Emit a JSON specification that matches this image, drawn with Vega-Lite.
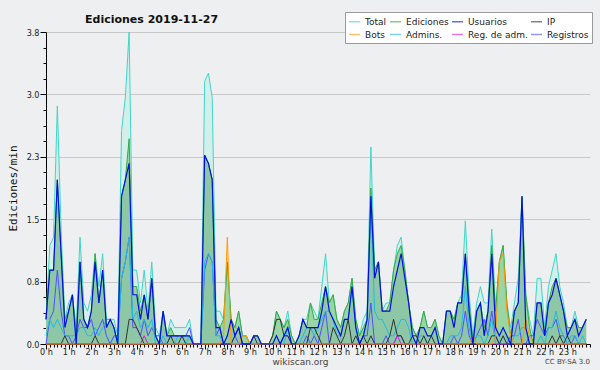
{
"$schema": "https://vega.github.io/schema/vega-lite/v6.json",
"width": 544, "height": 312,
"autosize": "none",
"padding": {"left": 46, "top": 32, "right": 10, "bottom": 26},
"background": "#eeeff0",
"config": {"view": {"stroke": null}, "font": "DejaVu Sans"},
"title": {"text": "Ediciones  2019-11-27", "anchor": "start", "frame": "group", "dx": 39, "dy": 19, "fontSize": 11, "font": "DejaVu Sans", "fontWeight": "bold", "color": "#111", "offset": 6},
"data": {"values": [
{"t":0,"T":0.3,"E":0.3,"U":0.3,"I":0,"B":0,"A":0.1,"M":0,"R":0},
{"t":10,"T":1.2,"E":0.9,"U":0.9,"I":0,"B":0,"A":0.3,"M":0,"R":0.3},
{"t":20,"T":1.3,"E":0.9,"U":0.9,"I":0,"B":0,"A":0.2,"M":0,"R":0.4},
{"t":30,"T":2.9,"E":2.0,"U":2.0,"I":0,"B":0,"A":0.3,"M":0,"R":0.9},
{"t":40,"T":1.4,"E":1.1,"U":1.1,"I":0,"B":0,"A":0.2,"M":0,"R":0.4},
{"t":50,"T":0.3,"E":0.3,"U":0.2,"I":0.1,"B":0,"A":0.1,"M":0,"R":0.1},
{"t":60,"T":0.5,"E":0.4,"U":0.4,"I":0,"B":0,"A":0.1,"M":0,"R":0.1},
{"t":70,"T":0.6,"E":0.6,"U":0.6,"I":0,"B":0,"A":0.1,"M":0,"R":0},
{"t":80,"T":0.2,"E":0.1,"U":0,"I":0,"B":0,"A":0.1,"M":0,"R":0.1},
{"t":90,"T":1.3,"E":1.0,"U":1.0,"I":0,"B":0,"A":0.2,"M":0,"R":0.3},
{"t":100,"T":0.5,"E":0.3,"U":0.3,"I":0,"B":0,"A":0.2,"M":0,"R":0.2},
{"t":110,"T":0.4,"E":0.2,"U":0.2,"I":0,"B":0,"A":0.1,"M":0,"R":0.2},
{"t":120,"T":0.6,"E":0.4,"U":0.4,"I":0,"B":0,"A":0.1,"M":0,"R":0.3},
{"t":130,"T":1.1,"E":1.1,"U":1.0,"I":0.1,"B":0,"A":0.2,"M":0,"R":0.1},
{"t":140,"T":0.7,"E":0.5,"U":0.5,"I":0,"B":0,"A":0.1,"M":0,"R":0.2},
{"t":150,"T":1.1,"E":0.9,"U":0.9,"I":0,"B":0,"A":0.2,"M":0,"R":0.3},
{"t":160,"T":0.3,"E":0.2,"U":0.2,"I":0,"B":0,"A":0.3,"M":0,"R":0.1},
{"t":170,"T":0.3,"E":0.3,"U":0.3,"I":0,"B":0,"A":0.3,"M":0,"R":0},
{"t":180,"T":0.3,"E":0.2,"U":0.2,"I":0,"B":0,"A":0.2,"M":0,"R":0.1},
{"t":190,"T":0.1,"E":0,"U":0,"I":0,"B":0,"A":0,"M":0,"R":0.1},
{"t":200,"T":2.6,"E":1.8,"U":1.8,"I":0,"B":0,"A":0.8,"M":0,"R":0.8},
{"t":210,"T":3.0,"E":2.0,"U":2.0,"I":0,"B":0,"A":1.0,"M":0,"R":1.0},
{"t":220,"T":3.8,"E":2.5,"U":2.2,"I":0.3,"B":0,"A":1.3,"M":0,"R":1.3},
{"t":230,"T":0.9,"E":0.7,"U":0.6,"I":0.3,"B":0,"A":0.3,"M":0,"R":0.2},
{"t":240,"T":0.9,"E":0.7,"U":0.6,"I":0.2,"B":0,"A":0.4,"M":0,"R":0.2},
{"t":250,"T":0.5,"E":0.4,"U":0.3,"I":0.1,"B":0,"A":0.2,"M":0,"R":0.1},
{"t":260,"T":0.9,"E":0.6,"U":0.6,"I":0,"B":0,"A":0.3,"M":0.1,"R":0.3},
{"t":270,"T":0.4,"E":0.3,"U":0.3,"I":0,"B":0,"A":0.2,"M":0,"R":0.1},
{"t":280,"T":1.0,"E":0.8,"U":0.8,"I":0,"B":0,"A":0.3,"M":0,"R":0.2},
{"t":290,"T":0.2,"E":0.1,"U":0.1,"I":0,"B":0,"A":0,"M":0,"R":0.1},
{"t":300,"T":0.1,"E":0,"U":0,"I":0,"B":0,"A":0,"M":0,"R":0.1},
{"t":310,"T":0.4,"E":0.4,"U":0.4,"I":0,"B":0,"A":0.1,"M":0,"R":0},
{"t":320,"T":0.1,"E":0.1,"U":0.1,"I":0,"B":0,"A":0,"M":0,"R":0},
{"t":330,"T":0.3,"E":0.2,"U":0.1,"I":0.1,"B":0,"A":0,"M":0,"R":0.1},
{"t":340,"T":0.2,"E":0.1,"U":0.1,"I":0,"B":0,"A":0,"M":0,"R":0.1},
{"t":350,"T":0.2,"E":0.1,"U":0.1,"I":0,"B":0,"A":0.1,"M":0,"R":0.1},
{"t":360,"T":0.2,"E":0.1,"U":0.1,"I":0.1,"B":0,"A":0.1,"M":0,"R":0.1},
{"t":370,"T":0.2,"E":0.1,"U":0.1,"I":0,"B":0,"A":0,"M":0,"R":0.1},
{"t":380,"T":0.3,"E":0.1,"U":0.1,"I":0,"B":0,"A":0.1,"M":0,"R":0.2},
{"t":390,"T":0,"E":0,"U":0,"I":0,"B":0,"A":0,"M":0,"R":0},
{"t":400,"T":0,"E":0,"U":0,"I":0,"B":0,"A":0,"M":0,"R":0},
{"t":410,"T":0,"E":0,"U":0,"I":0,"B":0,"A":0,"M":0,"R":0},
{"t":420,"T":3.2,"E":2.3,"U":2.3,"I":0,"B":0,"A":1.0,"M":0,"R":0.9},
{"t":430,"T":3.3,"E":2.2,"U":2.2,"I":0,"B":0,"A":1.1,"M":0,"R":1.1},
{"t":440,"T":3.0,"E":2.0,"U":2.0,"I":0,"B":0,"A":1.0,"M":0,"R":1.0},
{"t":450,"T":0.4,"E":0.3,"U":0.2,"I":0,"B":0,"A":0.1,"M":0,"R":0.1},
{"t":460,"T":0.4,"E":0.2,"U":0.2,"I":0,"B":0,"A":0.1,"M":0,"R":0.2},
{"t":470,"T":0.3,"E":0.3,"U":0,"I":0,"B":0.1,"A":0,"M":0,"R":0},
{"t":480,"T":1.0,"E":1.0,"U":0.1,"I":0,"B":1.3,"A":0,"M":0,"R":0},
{"t":490,"T":0.3,"E":0.3,"U":0.3,"I":0,"B":0,"A":0,"M":0,"R":0},
{"t":500,"T":0.2,"E":0.2,"U":0.1,"I":0.1,"B":0,"A":0,"M":0,"R":0.1},
{"t":510,"T":0.4,"E":0.4,"U":0.2,"I":0.2,"B":0,"A":0,"M":0,"R":0},
{"t":520,"T":0.1,"E":0.1,"U":0,"I":0,"B":0.1,"A":0,"M":0,"R":0},
{"t":530,"T":0.1,"E":0.1,"U":0,"I":0,"B":0.1,"A":0,"M":0,"R":0},
{"t":540,"T":0,"E":0,"U":0,"I":0,"B":0,"A":0,"M":0,"R":0},
{"t":550,"T":0.1,"E":0.1,"U":0.1,"I":0.1,"B":0,"A":0,"M":0,"R":0},
{"t":560,"T":0.1,"E":0.1,"U":0.1,"I":0,"B":0,"A":0,"M":0,"R":0},
{"t":570,"T":0,"E":0,"U":0,"I":0,"B":0,"A":0,"M":0,"R":0},
{"t":580,"T":0,"E":0,"U":0,"I":0,"B":0,"A":0,"M":0,"R":0},
{"t":590,"T":0,"E":0,"U":0,"I":0,"B":0,"A":0,"M":0,"R":0},
{"t":600,"T":0.1,"E":0.1,"U":0,"I":0.1,"B":0,"A":0,"M":0,"R":0},
{"t":610,"T":0.4,"E":0.4,"U":0.1,"I":0.3,"B":0,"A":0,"M":0,"R":0},
{"t":620,"T":0.3,"E":0.3,"U":0,"I":0.3,"B":0,"A":0,"M":0,"R":0},
{"t":630,"T":0.2,"E":0.2,"U":0.1,"I":0.1,"B":0,"A":0,"M":0,"R":0.1},
{"t":640,"T":0.4,"E":0.3,"U":0.2,"I":0.1,"B":0,"A":0.2,"M":0,"R":0.1},
{"t":650,"T":0.1,"E":0.1,"U":0,"I":0,"B":0,"A":0,"M":0,"R":0},
{"t":660,"T":0,"E":0,"U":0,"I":0,"B":0,"A":0,"M":0,"R":0},
{"t":670,"T":0.1,"E":0.1,"U":0.1,"I":0,"B":0,"A":0,"M":0,"R":0},
{"t":680,"T":0.3,"E":0.3,"U":0.3,"I":0,"B":0,"A":0.1,"M":0,"R":0},
{"t":690,"T":0.3,"E":0.2,"U":0.2,"I":0,"B":0,"A":0.2,"M":0,"R":0.1},
{"t":700,"T":0.5,"E":0.5,"U":0.2,"I":0.2,"B":0,"A":0.2,"M":0,"R":0},
{"t":710,"T":0.4,"E":0.3,"U":0.2,"I":0.2,"B":0,"A":0.1,"M":0,"R":0.1},
{"t":720,"T":0.3,"E":0.3,"U":0.2,"I":0.1,"B":0,"A":0.2,"M":0,"R":0},
{"t":730,"T":0.7,"E":0.5,"U":0.4,"I":0,"B":0,"A":0.3,"M":0,"R":0.2},
{"t":740,"T":1.1,"E":0.7,"U":0.7,"I":0,"B":0,"A":0.4,"M":0,"R":0.4},
{"t":750,"T":0.5,"E":0.5,"U":0.4,"I":0,"B":0,"A":0.4,"M":0,"R":0},
{"t":760,"T":0.6,"E":0.6,"U":0.3,"I":0.2,"B":0,"A":0.3,"M":0,"R":0},
{"t":770,"T":0.3,"E":0.3,"U":0.2,"I":0.1,"B":0,"A":0.1,"M":0,"R":0},
{"t":780,"T":0.2,"E":0.2,"U":0.1,"I":0,"B":0,"A":0.1,"M":0,"R":0},
{"t":790,"T":0.4,"E":0.4,"U":0.3,"I":0.1,"B":0,"A":0.3,"M":0,"R":0},
{"t":800,"T":0.5,"E":0.5,"U":0.3,"I":0.3,"B":0,"A":0.3,"M":0,"R":0},
{"t":810,"T":0.8,"E":0.8,"U":0.7,"I":0,"B":0,"A":0.7,"M":0,"R":0},
{"t":820,"T":0.3,"E":0.3,"U":0.2,"I":0.1,"B":0,"A":0.2,"M":0,"R":0},
{"t":830,"T":0.1,"E":0.1,"U":0,"I":0,"B":0,"A":0,"M":0,"R":0},
{"t":840,"T":0.3,"E":0.2,"U":0.1,"I":0.1,"B":0,"A":0.1,"M":0,"R":0.1},
{"t":850,"T":0.4,"E":0.3,"U":0.3,"I":0,"B":0,"A":0.3,"M":0,"R":0.1},
{"t":860,"T":2.4,"E":1.9,"U":1.8,"I":0.1,"B":0,"A":1.7,"M":0,"R":0.5},
{"t":870,"T":0.9,"E":0.9,"U":0.8,"I":0,"B":0,"A":0.4,"M":0,"R":0},
{"t":880,"T":1.0,"E":1.0,"U":1.0,"I":0,"B":0,"A":0.3,"M":0,"R":0},
{"t":890,"T":0.4,"E":0.4,"U":0.4,"I":0,"B":0,"A":0.3,"M":0,"R":0},
{"t":900,"T":0.5,"E":0.4,"U":0.4,"I":0,"B":0,"A":0.2,"M":0,"R":0.1},
{"t":910,"T":0.5,"E":0.5,"U":0.4,"I":0.1,"B":0,"A":0.1,"M":0,"R":0},
{"t":920,"T":0.9,"E":0.9,"U":0.7,"I":0.3,"B":0,"A":0.1,"M":0,"R":0},
{"t":930,"T":1.2,"E":1.1,"U":0.9,"I":0.1,"B":0,"A":0.2,"M":0.1,"R":0.1},
{"t":940,"T":1.3,"E":1.2,"U":1.1,"I":0.1,"B":0,"A":0.3,"M":0,"R":0.1},
{"t":950,"T":0.9,"E":0.9,"U":0.8,"I":0,"B":0,"A":0.3,"M":0,"R":0},
{"t":960,"T":0.5,"E":0.5,"U":0.5,"I":0,"B":0,"A":0.2,"M":0,"R":0},
{"t":970,"T":0.2,"E":0.2,"U":0.1,"I":0.1,"B":0,"A":0,"M":0,"R":0},
{"t":980,"T":0.1,"E":0.1,"U":0,"I":0.1,"B":0,"A":0,"M":0,"R":0},
{"t":990,"T":0.2,"E":0.2,"U":0.2,"I":0,"B":0,"A":0.1,"M":0,"R":0},
{"t":1000,"T":0.4,"E":0.4,"U":0.2,"I":0.1,"B":0,"A":0.1,"M":0,"R":0},
{"t":1010,"T":0.2,"E":0.2,"U":0.1,"I":0,"B":0,"A":0,"M":0,"R":0},
{"t":1020,"T":0.2,"E":0.2,"U":0.1,"I":0.1,"B":0,"A":0,"M":0,"R":0},
{"t":1030,"T":0.3,"E":0.3,"U":0.2,"I":0,"B":0,"A":0,"M":0,"R":0},
{"t":1040,"T":0.1,"E":0.1,"U":0,"I":0,"B":0,"A":0,"M":0,"R":0},
{"t":1050,"T":0,"E":0,"U":0,"I":0,"B":0,"A":0,"M":0,"R":0},
{"t":1060,"T":0.4,"E":0.4,"U":0.4,"I":0,"B":0,"A":0,"M":0,"R":0},
{"t":1070,"T":0.4,"E":0.4,"U":0.4,"I":0,"B":0,"A":0.1,"M":0,"R":0},
{"t":1080,"T":0.3,"E":0.3,"U":0.2,"I":0,"B":0,"A":0.1,"M":0,"R":0.1},
{"t":1090,"T":0.5,"E":0.5,"U":0.5,"I":0,"B":0,"A":0.1,"M":0,"R":0},
{"t":1100,"T":0.6,"E":0.5,"U":0.5,"I":0,"B":0,"A":0.2,"M":0,"R":0.1},
{"t":1110,"T":1.5,"E":1.1,"U":1.1,"I":0,"B":0,"A":0.7,"M":0,"R":0.4},
{"t":1120,"T":0.6,"E":0.5,"U":0.4,"I":0,"B":0,"A":0.2,"M":0,"R":0.1},
{"t":1130,"T":0.1,"E":0,"U":0,"I":0,"B":0.1,"A":0,"M":0,"R":0},
{"t":1140,"T":0.5,"E":0.4,"U":0.4,"I":0,"B":0,"A":0.1,"M":0,"R":0.1},
{"t":1150,"T":0.7,"E":0.5,"U":0.5,"I":0,"B":0,"A":0.1,"M":0,"R":0.2},
{"t":1160,"T":0.5,"E":0.2,"U":0.1,"I":0,"B":0,"A":0,"M":0,"R":0.3},
{"t":1170,"T":0.5,"E":0.4,"U":0.4,"I":0,"B":0,"A":0.1,"M":0,"R":0.1},
{"t":1180,"T":1.4,"E":1.2,"U":1.1,"I":0.1,"B":0,"A":0.3,"M":0,"R":0.4},
{"t":1190,"T":0.4,"E":0.4,"U":0.2,"I":0.1,"B":0.1,"A":0,"M":0,"R":0.1},
{"t":1200,"T":1.0,"E":1.0,"U":0.1,"I":0,"B":1.0,"A":0,"M":0,"R":0},
{"t":1210,"T":1.2,"E":1.2,"U":0.2,"I":0.1,"B":1.1,"A":0.1,"M":0,"R":0},
{"t":1220,"T":0.5,"E":0.5,"U":0.1,"I":0,"B":0.4,"A":0,"M":0,"R":0},
{"t":1230,"T":0.2,"E":0.1,"U":0,"I":0,"B":0.1,"A":0,"M":0,"R":0.1},
{"t":1240,"T":0.5,"E":0.4,"U":0.4,"I":0,"B":0,"A":0.1,"M":0,"R":0.1},
{"t":1250,"T":0.8,"E":0.5,"U":0.5,"I":0,"B":0,"A":0.1,"M":0,"R":0.3},
{"t":1260,"T":1.8,"E":1.8,"U":1.8,"I":0,"B":0,"A":0.2,"M":0,"R":0},
{"t":1270,"T":0.6,"E":0.6,"U":0.2,"I":0,"B":0.3,"A":0.2,"M":0,"R":0},
{"t":1280,"T":0.3,"E":0.2,"U":0,"I":0,"B":0.1,"A":0,"M":0,"R":0.1},
{"t":1290,"T":0.1,"E":0,"U":0,"I":0,"B":0,"A":0,"M":0,"R":0.1},
{"t":1300,"T":0.8,"E":0.5,"U":0.5,"I":0,"B":0,"A":0,"M":0,"R":0.3},
{"t":1310,"T":0.8,"E":0.5,"U":0.5,"I":0,"B":0,"A":0.1,"M":0,"R":0.2},
{"t":1320,"T":0.2,"E":0.1,"U":0.1,"I":0,"B":0,"A":0,"M":0,"R":0.1},
{"t":1330,"T":0.7,"E":0.5,"U":0.5,"I":0,"B":0,"A":0.2,"M":0,"R":0.2},
{"t":1340,"T":0.9,"E":0.7,"U":0.6,"I":0.1,"B":0,"A":0.2,"M":0,"R":0.2},
{"t":1350,"T":1.1,"E":0.8,"U":0.8,"I":0,"B":0,"A":0.4,"M":0,"R":0.3},
{"t":1360,"T":0.7,"E":0.6,"U":0.6,"I":0.1,"B":0,"A":0.2,"M":0,"R":0.1},
{"t":1370,"T":0.5,"E":0.4,"U":0.4,"I":0,"B":0,"A":0.1,"M":0,"R":0.1},
{"t":1380,"T":0.2,"E":0.2,"U":0.1,"I":0.1,"B":0,"A":0,"M":0,"R":0},
{"t":1390,"T":0.2,"E":0.2,"U":0.2,"I":0,"B":0,"A":0.1,"M":0,"R":0},
{"t":1400,"T":0.4,"E":0.3,"U":0.3,"I":0,"B":0,"A":0.1,"M":0,"R":0.1},
{"t":1410,"T":0.2,"E":0.2,"U":0.1,"I":0,"B":0,"A":0,"M":0,"R":0},
{"t":1420,"T":0.2,"E":0.2,"U":0.2,"I":0,"B":0,"A":0.1,"M":0,"R":0},
{"t":1430,"T":0.3,"E":0.3,"U":0.3,"I":0,"B":0,"A":0,"M":0,"R":0}
]},
"layer": [
{"mark": {"type": "area", "color": "#d2efea", "opacity": 1},
 "encoding": {
  "x": {"field": "t", "type": "quantitative", "scale": {"domain": [0, 1440], "nice": false, "zero": false},
        "axis": {"orient": "bottom", "values": [0,60,120,180,240,300,360,420,480,540,600,660,720,780,840,900,960,1020,1080,1140,1200,1260,1320,1380],
                 "labelExpr": "floor(datum.value/60) + ' h'", "tickSize": 5, "tickColor": "#000", "domainColor": "#000",
                 "labelFont": "DejaVu Sans Condensed, DejaVu Sans", "labelFontSize": 9, "labelColor": "#222", "labelPadding": -2, "labelFlush": false, "labelOverlap": false, "grid": false,
                 "title": "wikiscan.org", "titleFont": "DejaVu Sans", "titleFontSize": 9, "titleFontWeight": "normal", "titleColor": "#444", "titleX": 254, "titleY": 13}},
  "y": {"field": "T", "type": "quantitative", "scale": {"domain": [0, 3.8], "nice": false},
        "axis": {"orient": "left", "values": [0, 0.76, 1.52, 2.28, 3.04, 3.8], "format": ".1f", "tickSize": 6, "tickColor": "#000", "domainColor": "#000",
                 "labelFont": "DejaVu Sans Condensed, DejaVu Sans", "labelFontSize": 9, "labelColor": "#222", "labelPadding": 1, "grid": true, "gridColor": "#c8c8c8",
                 "title": "Ediciones/min", "titleFont": "DejaVu Sans Mono", "titleFontSize": 11, "titleFontWeight": "normal", "titleColor": "#111", "titlePadding": 8}}}},
{"mark": {"type": "area", "color": "#62bb62", "opacity": 0.5},
 "encoding": {
  "x": {"field": "t", "type": "quantitative", "scale": {"domain": [0, 1440], "nice": false, "zero": false},
        "axis": {"orient": "bottom", "values": [0,10,20,30,40,50,60,70,80,90,100,110,120,130,140,150,160,170,180,190,200,210,220,230,240,250,260,270,280,290,300,310,320,330,340,350,360,370,380,390,400,410,420,430,440,450,460,470,480,490,500,510,520,530,540,550,560,570,580,590,600,610,620,630,640,650,660,670,680,690,700,710,720,730,740,750,760,770,780,790,800,810,820,830,840,850,860,870,880,890,900,910,920,930,940,950,960,970,980,990,1000,1010,1020,1030,1040,1050,1060,1070,1080,1090,1100,1110,1120,1130,1140,1150,1160,1170,1180,1190,1200,1210,1220,1230,1240,1250,1260,1270,1280,1290,1300,1310,1320,1330,1340,1350,1360,1370,1380,1390,1400,1410,1420,1430,1440],
                 "labels": false, "domain": false, "grid": false, "tickSize": 3, "tickColor": "#000", "title": null}},
  "y": {"field": "E", "type": "quantitative", "scale": {"domain": [0, 3.8], "nice": false},
        "axis": {"orient": "left", "values": [0.19,0.38,0.57,0.95,1.14,1.33,1.71,1.9,2.09,2.47,2.66,2.85,3.23,3.42,3.61],
                 "labels": false, "domain": false, "grid": false, "tickSize": 3, "tickColor": "#000", "title": null}}}},
{"mark": {"type": "area", "color": "#3a60b0", "opacity": 0.12},
 "encoding": {
  "x": {"field": "t", "type": "quantitative", "scale": {"domain": [0, 1440], "nice": false, "zero": false}, "axis": null},
  "y": {"field": "U", "type": "quantitative", "scale": {"domain": [0, 3.8], "nice": false}, "axis": null}}},
{"mark": {"type": "line", "strokeWidth": 1},
 "encoding": {
  "x": {"field": "t", "type": "quantitative", "scale": {"domain": [0, 1440], "nice": false, "zero": false}, "axis": null},
  "y": {"field": "T", "type": "quantitative", "scale": {"domain": [0, 3.8], "nice": false}, "axis": null},
  "color": {"datum": "Total", "type": "nominal",
            "scale": {"domain": ["Total", "Ediciones", "Usuarios", "IP", "Bots", "Admins.", "Reg. de adm.", "Registros"],
                      "range": ["#3fd6c6", "#3aaa3a", "#0010e0", "#333333", "#ff9900", "#20bce0", "#d020d0", "#5050ff"]},
            "legend": {"orient": "none", "legendX": 299, "legendY": -20, "columns": 4, "direction": "horizontal", "title": null,
                       "symbolType": "stroke", "symbolSize": 121, "symbolStrokeWidth": 1.5, "symbolOpacity": 0.6,
                       "labelFontSize": 9, "labelFont": "DejaVu Sans", "labelColor": "#222", "labelOffset": 4, "labelLimit": 120,
                       "fillColor": "#ffffff", "strokeColor": "#999999", "padding": 3, "rowPadding": 1, "columnPadding": 0}}}},
{"mark": {"type": "line", "strokeWidth": 1},
 "encoding": {
  "x": {"field": "t", "type": "quantitative", "scale": {"domain": [0, 1440], "nice": false, "zero": false}, "axis": null},
  "y": {"field": "E", "type": "quantitative", "scale": {"domain": [0, 3.8], "nice": false}, "axis": null},
  "color": {"datum": "Ediciones", "type": "nominal"}}},
{"mark": {"type": "line", "strokeWidth": 1},
 "encoding": {
  "x": {"field": "t", "type": "quantitative", "scale": {"domain": [0, 1440], "nice": false, "zero": false}, "axis": null},
  "y": {"field": "R", "type": "quantitative", "scale": {"domain": [0, 3.8], "nice": false}, "axis": null},
  "color": {"datum": "Registros", "type": "nominal"}}},
{"mark": {"type": "line", "strokeWidth": 1},
 "encoding": {
  "x": {"field": "t", "type": "quantitative", "scale": {"domain": [0, 1440], "nice": false, "zero": false}, "axis": null},
  "y": {"field": "A", "type": "quantitative", "scale": {"domain": [0, 3.8], "nice": false}, "axis": null},
  "color": {"datum": "Admins.", "type": "nominal"}}},
{"mark": {"type": "line", "strokeWidth": 1},
 "encoding": {
  "x": {"field": "t", "type": "quantitative", "scale": {"domain": [0, 1440], "nice": false, "zero": false}, "axis": null},
  "y": {"field": "M", "type": "quantitative", "scale": {"domain": [0, 3.8], "nice": false}, "axis": null},
  "color": {"datum": "Reg. de adm.", "type": "nominal"}}},
{"mark": {"type": "line", "strokeWidth": 1},
 "encoding": {
  "x": {"field": "t", "type": "quantitative", "scale": {"domain": [0, 1440], "nice": false, "zero": false}, "axis": null},
  "y": {"field": "I", "type": "quantitative", "scale": {"domain": [0, 3.8], "nice": false}, "axis": null},
  "color": {"datum": "IP", "type": "nominal"}}},
{"mark": {"type": "line", "strokeWidth": 1},
 "encoding": {
  "x": {"field": "t", "type": "quantitative", "scale": {"domain": [0, 1440], "nice": false, "zero": false}, "axis": null},
  "y": {"field": "B", "type": "quantitative", "scale": {"domain": [0, 3.8], "nice": false}, "axis": null},
  "color": {"datum": "Bots", "type": "nominal"}}},
{"mark": {"type": "line", "strokeWidth": 1.2},
 "encoding": {
  "x": {"field": "t", "type": "quantitative", "scale": {"domain": [0, 1440], "nice": false, "zero": false}, "axis": null},
  "y": {"field": "U", "type": "quantitative", "scale": {"domain": [0, 3.8], "nice": false}, "axis": null},
  "color": {"datum": "Usuarios", "type": "nominal"}}},
{"data": {"values": [{"label": "CC BY-SA 3.0", "t": 1440, "v": 0}]},
 "mark": {"type": "text", "fontSize": 7, "color": "#444", "align": "right", "baseline": "middle", "dy": 18},
 "encoding": {
  "x": {"field": "t", "type": "quantitative", "scale": {"domain": [0, 1440], "nice": false, "zero": false}, "axis": null},
  "y": {"field": "v", "type": "quantitative", "scale": {"domain": [0, 3.8], "nice": false}, "axis": null},
  "text": {"field": "label"}}}
],
"resolve": {"axis": {"x": "independent", "y": "independent"}}
}
